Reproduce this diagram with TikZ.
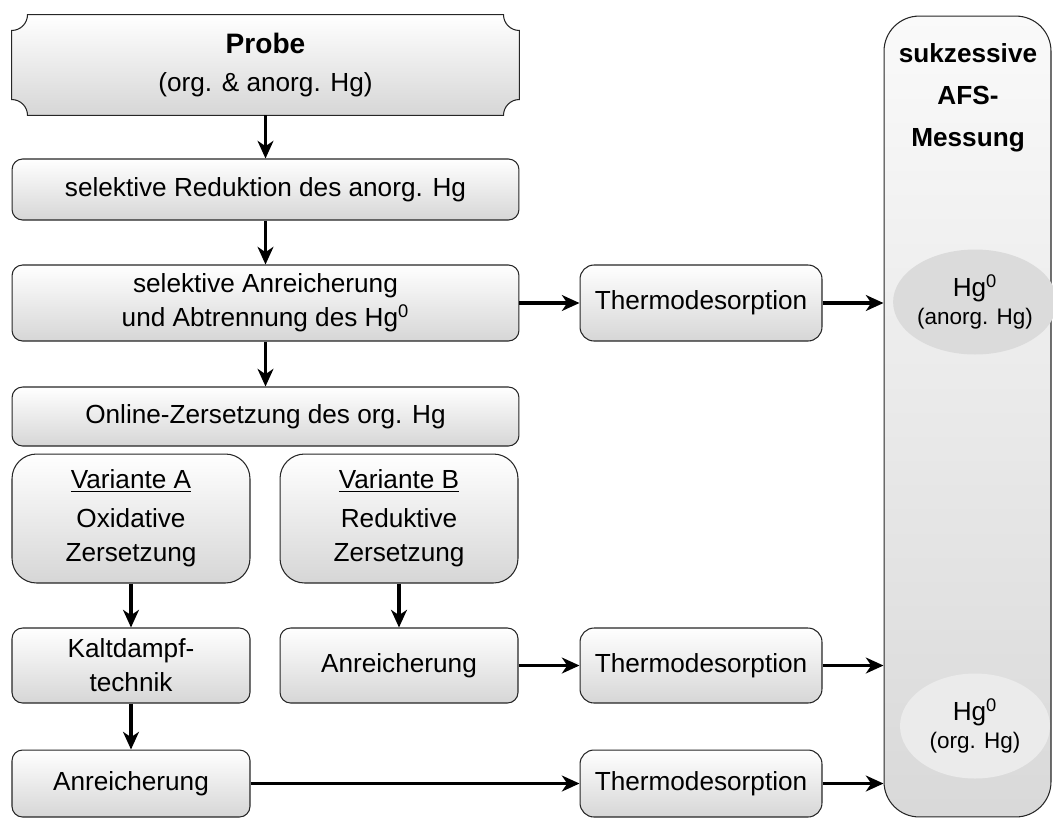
\documentclass[tikz,border=0pt]{standalone}
\usepackage{fontspec}
\setmainfont{Liberation Sans}
\usetikzlibrary{arrows.meta,shapes.geometric,backgrounds}

\begin{document}
\begin{tikzpicture}[x=0.02cm, y=-0.02cm, font=\fontsize{14.9}{19.3}\selectfont,
	box/.style={draw=black!85, line width=0.6pt, rounded corners=6pt, top color=white, bottom color=black!16, align=center, inner sep=0pt},
	wide/.style={box, minimum width=10.14cm},
	half/.style={box, minimum width=4.76cm},
	thermo/.style={box, rounded corners=8pt, minimum width=4.84cm},
	column/.style={draw=black!85, line width=0.6pt, rounded corners=20pt, top color=black!2, bottom color=black!15, minimum width=3.34cm, minimum height=16.02cm},
	blob/.style={ellipse, minimum width=3cm, minimum height=2.1cm, align=center, inner sep=0pt},
	flow/.style={-{Stealth[length=10pt,width=9pt,inset=3pt]}, line width=2pt}]
	\useasboundingbox (0,0) rectangle (1053,819);

	\node[column] (afs) at (967.5,416.5) {};
	\node[font=\fontsize{14.9}{23.8}\selectfont\bfseries, align=center] (afstitle) at (968,98) {sukzessive\\AFS-\\Messung};
	\node[blob, fill=black!14] (hganorg) at (975,302) {Hg\textsuperscript{0}\\[-3pt]{\fontsize{12.8}{15}\selectfont (anorg. Hg)}};
	\node[blob, fill=black!8] (hgorg) at (975,726) {Hg\textsuperscript{0}\\[-3pt]{\fontsize{12.8}{15}\selectfont (org. Hg)}};

	\node[minimum width=10.14cm, minimum height=2cm, align=center, inner sep=0pt] (probe) at (265.5,65) {{\fontsize{16}{19.3}\selectfont\bfseries Probe}\\[2pt](org. \& anorg. Hg)};
	\begin{scope}[on background layer]
		\shade[top color=white, bottom color=black!16, draw=black!85, line width=0.6pt]
			([xshift=9pt]probe.north west) -- ([xshift=-9pt]probe.north east)
			arc[start angle=180, end angle=270, radius=9pt] -- ([yshift=9pt]probe.south east)
			arc[start angle=90, end angle=180, radius=9pt] -- ([xshift=9pt]probe.south west)
			arc[start angle=0, end angle=90, radius=9pt] -- ([yshift=-9pt]probe.north west)
			arc[start angle=270, end angle=360, radius=9pt] -- cycle;
	\end{scope}

	\node[wide, minimum height=1.22cm] (reduk) at (265.5,189.5) {selektive Reduktion des anorg. Hg};
	\node[wide, minimum height=1.52cm] (anreich) at (265.5,303) {selektive Anreicherung\\und Abtrennung des Hg\textsuperscript{0}};
	\node[thermo, minimum height=1.52cm] (thermoA) at (701,303) {Thermodesorption};
	\node[wide, minimum height=1.18cm] (online) at (265.5,416.5) {Online-Zersetzung des org. Hg};

	\node[half, rounded corners=14pt, minimum height=2.58cm] (varA) at (131,518.5) {\underline{Variante A}\\[3pt]Oxidative\\Zersetzung};
	\node[half, rounded corners=14pt, minimum height=2.58cm] (varB) at (399,518.5) {\underline{Variante B}\\[3pt]Reduktive\\Zersetzung};
	\node[half, minimum height=1.5cm] (kalt) at (131,665.5) {Kaltdampf-\\technik};
	\node[half, minimum height=1.5cm] (anreichB) at (399,665.5) {Anreicherung};
	\node[thermo, minimum height=1.5cm] (thermoB) at (701,665.5) {Thermodesorption};
	\node[half, minimum height=1.34cm] (anreichA) at (131,783.5) {Anreicherung};
	\node[thermo, minimum height=1.34cm] (thermoC) at (701,783.5) {Thermodesorption};

	\draw[flow] (probe) -- (reduk);
	\draw[flow] (reduk) -- (anreich);
	\draw[flow] (anreich) -- (online);
	\draw[flow] (anreich) -- (thermoA);
	\draw[flow] (thermoA.east) -- (thermoA.east -| afs.west);
	\draw[flow] (varA) -- (kalt);
	\draw[flow] (varB) -- (anreichB);
	\draw[flow] (kalt) -- (anreichA);
	\draw[flow] (anreichB) -- (thermoB);
	\draw[flow] (thermoB.east) -- (thermoB.east -| afs.west);
	\draw[flow] (anreichA) -- (thermoC);
	\draw[flow] (thermoC.east) -- (thermoC.east -| afs.west);
\end{tikzpicture}
\end{document}
